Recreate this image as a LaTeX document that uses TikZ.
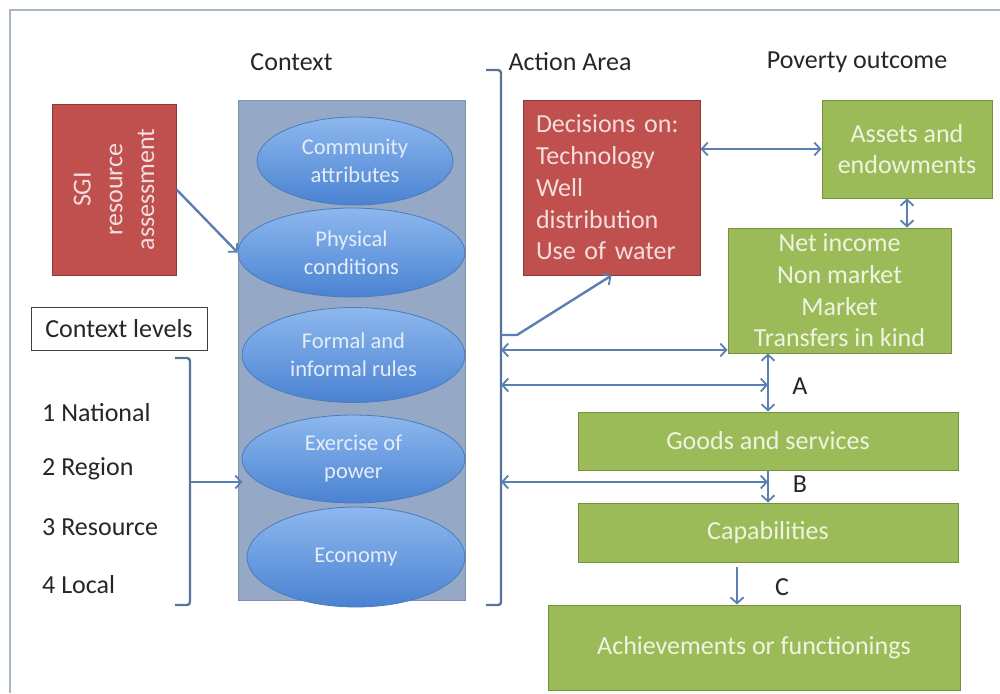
\documentclass[tikz,border=0pt]{standalone}
\usepackage{fontspec}
\setmainfont{Carlito}
\usetikzlibrary{arrows.meta,calc,shapes.geometric}

\definecolor{redfill}{HTML}{C0504D}
\definecolor{redline}{HTML}{8C3A38}
\definecolor{redtext}{HTML}{F4DEDD}
\definecolor{greenfill}{HTML}{9BBB59}
\definecolor{greenline}{HTML}{76923C}
\definecolor{greentext}{HTML}{EEF4E0}
\definecolor{colfill}{HTML}{95A9C6}
\definecolor{colline}{HTML}{7F93B0}
\definecolor{elltop}{HTML}{8DB8EE}
\definecolor{ellbot}{HTML}{4A82D2}
\definecolor{ellline}{HTML}{4A7CBB}
\definecolor{elltext}{HTML}{E4EDF8}
\definecolor{linkblue}{HTML}{5B7FB3}
\definecolor{braceblue}{HTML}{5A7398}
\definecolor{framegray}{HTML}{A9B6C8}
\definecolor{inkgray}{HTML}{262626}

\newcommand{\dgfont}{\fontsize{26}{31.7}\selectfont}
\newcommand{\elfont}{\fontsize{22.5}{28}\selectfont}

\tikzset{
  barb/.tip={Straight Barb[length=6pt,width=13pt,line width=1.8pt]},
  redbox/.style={draw=redline, fill=redfill, line width=1pt, text=redtext, inner sep=0pt, font=\dgfont},
  greenbox/.style={draw=greenline, fill=greenfill, line width=1pt, text=greentext, align=center, inner sep=0pt, font=\dgfont},
  ctxell/.style={ellipse, draw=ellline, line width=0.8pt, top color=elltop, bottom color=ellbot, text=elltext, align=center, inner sep=0pt, font=\elfont},
  plain/.style={text=inkgray, font=\dgfont, inner sep=0pt},
  link/.style={draw=linkblue, line width=2.4pt, -barb},
  both/.style={draw=linkblue, line width=2.4pt, barb-barb},
  brace/.style={draw=braceblue, line width=2.4pt, rounded corners=3pt},
}

\begin{document}
\begin{tikzpicture}[x=1pt,y=-1pt]
\useasboundingbox (0,0) rectangle (1000,693);

% outer frame (left and top edges)
\draw[framegray, line width=1.5pt] (10,693) -- (10,10) -- (1000,10);

% column headings
\node[plain] (tctx) at (291.5,62) {Context};
\node[plain] (tact) at (570,62) {Action Area};
\node[plain] (tpov) at (857,62) {Poverty outcome};

% context column with its ellipses
\node[draw=colline, fill=colfill, line width=1pt, minimum width=227, minimum height=500, inner sep=0pt] (ctx) at (351.5,350) {};
\node[ctxell, minimum width=196, minimum height=88] (comm) at (355,161) {Community\\attributes};
\node[ctxell, minimum width=227, minimum height=89] (phys) at (351.5,252.5) {Physical\\conditions};
\node[ctxell, minimum width=223, minimum height=95] (rules) at (353.5,355) {Formal and\\informal rules};
\node[ctxell, minimum width=223, minimum height=88] (power) at (353.5,459) {Exercise of\\power};
\node[ctxell, minimum width=218, minimum height=100] (econ) at (356,557) {Economy};

% resource assessment box
\node[redbox, rotate=90, align=center, minimum width=171, minimum height=124] (sgi) at (114,189.5) {SGI\\resource\\assessment};
\draw[link] (sgi.south) -- (phys.west);

% context levels
\node[plain, draw=black!75, line width=1pt, minimum width=176, minimum height=43] (levels) at (119,328.5) {Context levels};
\node[plain, anchor=west] (lv1) at (42,413) {1 National};
\node[plain, anchor=west] (lv2) at (42,469) {2 Region};
\node[plain, anchor=west] (lv3) at (42,527) {3 Resource};
\node[plain, anchor=west] (lv4) at (42,585) {4 Local};

\coordinate (lbtop) at (175,358);
\coordinate (lbbot) at (175,605);
\coordinate (lbmid) at (190,482);
\draw[brace] (lbtop) -- (190,358) -- (190,605) -- (lbbot);
\draw[link] (lbmid) -- ([xshift=5pt]ctx.west |- lbmid);

% action area
\node[redbox, align=left, text width=151, inner xsep=13pt, minimum width=177, minimum height=175] (dec) at (611.5,187.5)
  {Decisions on:\\Technology\\Well\\distribution\\Use of water};

\coordinate (abtop) at (486,70);
\coordinate (abbot) at (486,605);
\draw[brace] (abtop) -- (501,70) -- (501,605) -- (abbot);
\coordinate (ab1) at (501,335);
\coordinate (ab2) at (501,350);
\coordinate (ab3) at (501,385);
\coordinate (ab4) at (501,482);

% poverty outcome
\node[greenbox, minimum width=170, minimum height=98] (assets) at (907,149) {Assets and\\endowments};
\node[greenbox, minimum width=223, minimum height=125] (net) at (839.5,290.5) {Net income\\Non market\\Market\\Transfers in kind};
\node[greenbox, minimum width=380, minimum height=58] (goods) at (768,441) {Goods and services};
\node[greenbox, minimum width=380, minimum height=59] (capab) at (768,532.5) {Capabilities};
\node[greenbox, minimum width=412, minimum height=85] (achieve) at (754,647.5) {Achievements or functionings};

% connectors
\draw[link] (ab1) -- (517,335) -- (dec.south);
\draw[both] (ab2) -- (net.west |- ab2);
\draw[both] (ab3) -- (goods.north |- ab3);
\draw[both] (ab4) -- (goods.north |- ab4);
\draw[both] (dec.east |- assets.west) -- (assets.west);
\draw[both] (assets.south) -- (assets.south |- net.north);
\draw[both] (goods.north |- net.south) -- (goods.north);
\draw[link] (goods.south) -- (capab.north);
\coordinate (cstart) at ($(capab.south)+(-31,4)$);
\draw[link] (cstart) -- (cstart |- achieve.north);

% flow labels
\node[plain] (la) at (800,386) {A};
\node[plain] (lb) at (800,484) {B};
\node[plain] (lc) at (782,587) {C};
\end{tikzpicture}
\end{document}
